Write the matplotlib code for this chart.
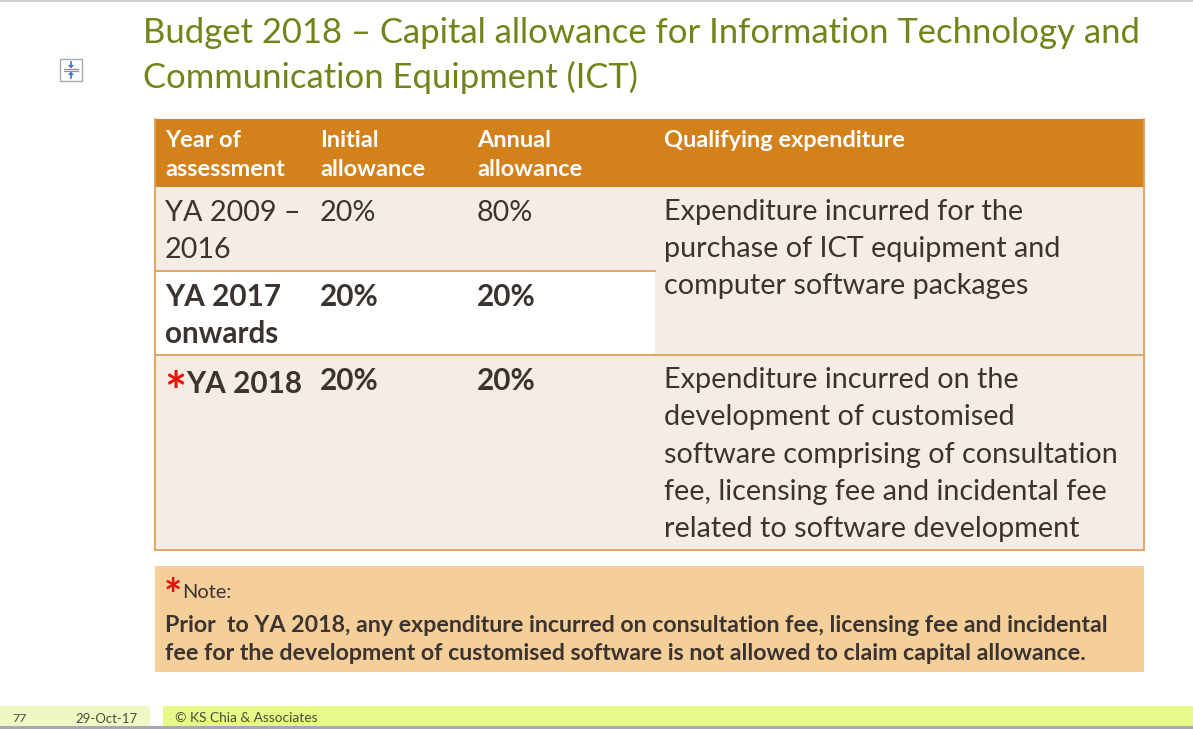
import matplotlib
matplotlib.use("Agg")
import matplotlib.pyplot as plt
from matplotlib.patches import Rectangle, Polygon

# ---------------- data ----------------
title_lines = ["Budget 2018 \u2013 Capital allowance for Information Technology and",
               "Communication Equipment (ICT)"]
headers = [["Year of", "assessment"], ["Initial", "allowance"], ["Annual", "allowance"],
           ["Qualifying expenditure"]]
years = [["YA 2009 \u2013", "2016"], ["YA 2017", "onwards"], ["YA 2018"]]
initial = ["20%", "20%", "20%"]
annual = ["80%", "20%", "20%"]
qualifying = [["Expenditure incurred for the", "purchase of ICT equipment and",
               "computer software packages"],
              ["Expenditure incurred on the", "development of customised",
               "software comprising of consultation", "fee, licensing fee and incidental fee",
               "related to software development"]]
note_title = "Note:"
note_lines = ["Prior  to YA 2018, any expenditure incurred on consultation fee, licensing fee and incidental",
              "fee for the development of customised software is not allowed to claim capital allowance."]
footer_page = "77"
footer_date = "29-Oct-17"
footer_text = "\u00a9 KS Chia & Associates"

# ---------------- style ----------------
FONT = "Lato"
C_TITLE = "#6f8419"
C_HEAD = "#d3821b"
C_BEIGE = "#f5ece6"
C_BORDER = "#e0a35a"
C_TEXT = "#3b3330"
C_NOTE = "#f5cf9a"
C_RED = "#e3120b"

W, H = 1193, 729
fig = plt.figure(figsize=(W / 100, H / 100), dpi=100)
ax = fig.add_axes([0, 0, 1, 1])
ax.set_xlim(0, W)
ax.set_ylim(H, 0)
ax.axis("off")
renderer = fig.canvas.get_renderer()


def fit(s, target, weight="normal"):
    t = ax.text(0, 0, s, fontsize=10, family=FONT, weight=weight)
    w = t.get_window_extent(renderer).width
    t.remove()
    return 10 * target / w


def txt(x, y, s, size, color=C_TEXT, weight="normal", **kw):
    ax.text(x, y, s, fontsize=size, color=color, weight=weight, family=FONT,
            va="center", ha="left", **kw)


# sizes fitted to reference widths
s_title = fit(title_lines[0], 997)
s_body = fit(qualifying[0][0], 360)
s_head = fit(headers[3][0], 241, "bold")
s_bold = fit(years[1][1], 114, "bold")
s_note = fit(note_lines[0], 945, "bold")
s_foot = fit(footer_text, 143)

# top thin line
ax.add_patch(Rectangle((0, 0), W, 2, color="#d0d0d0", lw=0))

# icon
ax.add_patch(Rectangle((60, 59), 22, 22, fill=False, ec="#a8a8a8", lw=1))
ax.plot([64, 78], [69, 69], color="#909090", lw=0.9)
ax.plot([64, 78], [71, 71], color="#909090", lw=0.9)
ax.plot([71, 71], [62, 66], color="#3a6fd0", lw=1.2)
ax.plot([71, 71], [74, 78], color="#3a6fd0", lw=1.2)
ax.add_patch(Polygon([[68, 65], [74, 65], [71, 68.5]], closed=True, color="#3a6fd0", lw=0))
ax.add_patch(Polygon([[68, 75], [74, 75], [71, 71.5]], closed=True, color="#3a6fd0", lw=0))

# title
txt(143, 33, title_lines[0], s_title, color=C_TITLE)
txt(143, 77, title_lines[1], s_title, color=C_TITLE)

# table geometry
L, R = 155, 1144
y_head0, y_head1 = 119, 187
row_y = [187, 271, 355, 550]
col_x = [165, 320, 477, 664]
merge_x = 655

ax.add_patch(Rectangle((L, y_head0), R - L, y_head1 - y_head0, color=C_HEAD, lw=0))
ax.add_patch(Rectangle((L, row_y[0]), R - L, row_y[3] - row_y[0], color=C_BEIGE, lw=0))
ax.add_patch(Rectangle((L, row_y[1]), merge_x - L, row_y[2] - row_y[1], color="white", lw=0))
# borders
ax.plot([L, L], [y_head0, row_y[3]], color=C_BORDER, lw=1.3)
ax.plot([R, R], [y_head0, row_y[3]], color=C_BORDER, lw=1.3)
ax.plot([L, merge_x], [row_y[1], row_y[1]], color=C_BORDER, lw=1.3)
ax.plot([L, R], [row_y[2], row_y[2]], color=C_BORDER, lw=1.3)
ax.plot([L, R], [row_y[3], row_y[3]], color=C_BORDER, lw=1.3)

# header text
for i, h in enumerate(headers):
    for j, line in enumerate(h):
        txt(col_x[i], 140 + 29 * j, line, s_head, color="white", weight="bold")

# rows
line_h = 37
row_top = [213, 297, 381]
weights = ["normal", "bold", "bold"]
for r in range(3):
    w = weights[r]
    sz = s_body if w == "normal" else s_bold
    for j, line in enumerate(years[r]):
        x0 = col_x[0]
        if r == 2:
            ax.text(x0 - 1, row_top[r] + 14, "*", fontsize=sz * 1.75, color=C_RED, weight="bold",
                    family=FONT, va="center", ha="left")
            x0 = col_x[0] + 21
        txt(x0, row_top[r] + line_h * j + (3 if r == 2 else 0), line, sz, weight=w)
    txt(col_x[1], row_top[r], initial[r], sz, weight=w)
    txt(col_x[2], row_top[r], annual[r], sz, weight=w)

for j, line in enumerate(qualifying[0]):
    txt(col_x[3], 212 + line_h * j, line, s_body)
for j, line in enumerate(qualifying[1]):
    txt(col_x[3], 380 + 37.3 * j, line, s_body)

# note box
ax.add_patch(Rectangle((L, 566), R - L, 106, color=C_NOTE, lw=0))
ax.text(164, 597, "*", fontsize=s_body * 1.5, color=C_RED, weight="bold", family=FONT,
        va="center", ha="left")
txt(182, 593, note_title, s_foot * 1.45)
for j, line in enumerate(note_lines):
    txt(165, 625 + 29 * j, line, s_note, weight="bold")

# footer
ax.add_patch(Rectangle((0, 706), 150, 20, color="#eff8c4", lw=0))
ax.add_patch(Rectangle((163, 706), W - 163, 20, color="#e6fa8a", lw=0))
ax.add_patch(Rectangle((0, 726), W, 3, color="#a8a8b4", lw=0))
txt(12, 719, footer_page, s_foot * 0.9, color="#4a4a3a")
txt(75, 719, footer_date, s_foot * 0.95, color="#4a4a3a")
txt(175, 718, footer_text, s_foot, color="#4a4a3a")

fig.savefig("out.png", dpi=100, facecolor="white")
